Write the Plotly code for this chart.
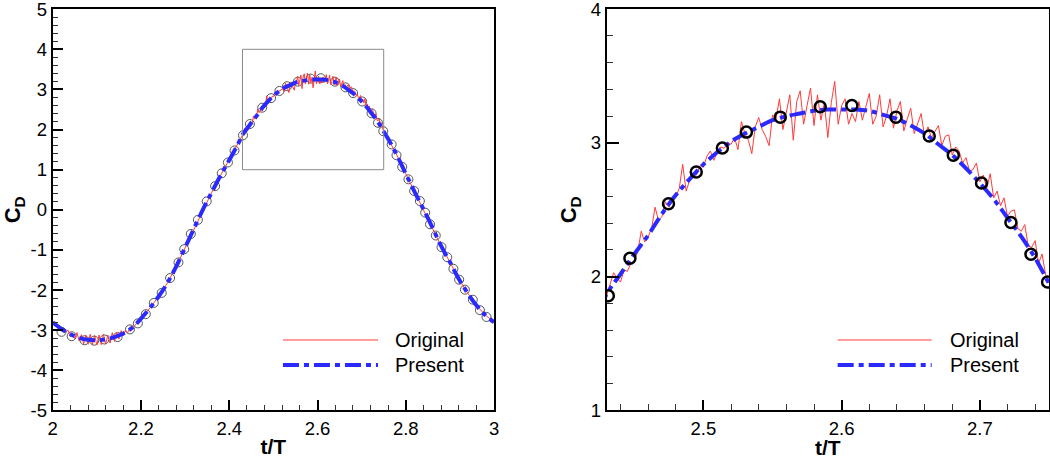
import plotly.graph_objects as go

# ---------------- data ----------------
# "Present" (smooth, blue dash-dot)
t_present = [2.00, 2.02, 2.04, 2.06, 2.08, 2.10, 2.12, 2.14, 2.16, 2.18,
             2.20, 2.22, 2.24, 2.26, 2.28, 2.30, 2.32, 2.34, 2.36, 2.38,
             2.40, 2.42, 2.43, 2.44, 2.45, 2.46, 2.47, 2.48, 2.49, 2.50,
             2.51, 2.52, 2.53, 2.54, 2.55, 2.56, 2.57, 2.58, 2.59, 2.60,
             2.61, 2.62, 2.63, 2.64, 2.65, 2.66, 2.67, 2.68, 2.69, 2.70,
             2.71, 2.72, 2.73, 2.74, 2.75, 2.76, 2.78, 2.80, 2.82, 2.84,
             2.86, 2.88, 2.90, 2.92, 2.94, 2.96, 2.98, 3.00]
cd_present = [-2.80, -2.97, -3.10, -3.19, -3.24, -3.25, -3.23, -3.17, -3.08, -2.94,
              -2.71, -2.45, -2.16, -1.82, -1.41, -0.94, -0.47, 0.00, 0.43, 0.85,
              1.24, 1.64, 1.87, 2.02, 2.17, 2.31, 2.47, 2.61, 2.73, 2.84,
              2.93, 3.01, 3.07, 3.12, 3.17, 3.20, 3.22, 3.24, 3.25, 3.25,
              3.25, 3.24, 3.21, 3.18, 3.13, 3.07, 2.99, 2.91, 2.81, 2.70,
              2.58, 2.44, 2.30, 2.14, 1.95, 1.77, 1.36, 0.90, 0.45, 0.02,
              -0.43, -0.90, -1.30, -1.72, -2.07, -2.38, -2.62, -2.80]

# "Original" (noisy, thin red)
t_original = [2.000, 2.010, 2.020, 2.025,
              2.030, 2.035, 2.040, 2.045, 2.050, 2.055, 2.060, 2.065, 2.070, 2.075,
              2.080, 2.085, 2.090, 2.095, 2.100, 2.105, 2.110, 2.115, 2.120, 2.125,
              2.130, 2.135, 2.140, 2.145, 2.150, 2.155, 2.160, 2.165, 2.170, 2.175, 2.180,
              2.20, 2.22, 2.24, 2.26, 2.28, 2.30, 2.32, 2.34, 2.36, 2.38, 2.40, 2.42,
              2.4300, 2.4325, 2.4350, 2.4375, 2.4400, 2.4425, 2.4450, 2.4475, 2.4500, 2.4525,
              2.4550, 2.4575, 2.4600, 2.4625, 2.4650, 2.4675, 2.4700, 2.4725, 2.4750, 2.4775,
              2.4800, 2.4825, 2.4850, 2.4875, 2.4900, 2.4925, 2.4950, 2.4975, 2.5000,
              2.5025, 2.5050, 2.5075, 2.5100, 2.5125, 2.5150, 2.5175, 2.5200, 2.5225, 2.5250,
              2.5275, 2.5300, 2.5325, 2.5350, 2.5375, 2.5400, 2.5425, 2.5450, 2.5475, 2.5500,
              2.5525, 2.5550, 2.5575, 2.5600, 2.5625, 2.5650, 2.5675, 2.5700, 2.5725, 2.5750,
              2.5775, 2.5800, 2.5825, 2.5850, 2.5875, 2.5900, 2.5925, 2.5950, 2.5975, 2.6000,
              2.6025, 2.6050, 2.6075, 2.6100, 2.6125, 2.6150, 2.6175, 2.6200, 2.6225, 2.6250,
              2.6275, 2.6300, 2.6325, 2.6350, 2.6375, 2.6400, 2.6425, 2.6450, 2.6475, 2.6500,
              2.6525, 2.6550, 2.6575, 2.6600, 2.6625, 2.6650, 2.6675, 2.6700, 2.6725, 2.6750,
              2.6775, 2.6800, 2.6825, 2.6850, 2.6875, 2.6900, 2.6925, 2.6950, 2.6975, 2.7000,
              2.7025, 2.7050, 2.7075, 2.7100, 2.7125, 2.7150, 2.7175, 2.7200, 2.7225, 2.7250,
              2.7275, 2.7300, 2.7325, 2.7350, 2.7375, 2.7400, 2.7425, 2.7450, 2.7475, 2.7500,
              2.76, 2.78, 2.80, 2.82, 2.84, 2.86, 2.88, 2.90, 2.92, 2.94, 2.96, 2.98, 3.00]
cd_original = [-2.80, -2.89, -2.96, -3.00,
               -3.04, -3.00, -3.16, -3.08, -3.21, -3.06, -3.27, -3.11, -3.34, -3.12,
               -3.35, -3.10, -3.36, -3.13, -3.37, -3.12, -3.36, -3.10, -3.35, -3.12,
               -3.32, -3.06, -3.28, -3.05, -3.22, -3.01, -3.14, -3.00, -3.06, -2.94, -2.96,
               -2.71, -2.45, -2.16, -1.82, -1.41, -0.94, -0.47, 0.00, 0.43, 0.85, 1.24, 1.64,
               1.86, 1.95, 2.03, 1.99, 1.96, 2.05, 2.04, 2.10, 2.12, 2.19,
               2.34, 2.26, 2.30, 2.36, 2.52, 2.42, 2.45, 2.56, 2.52, 2.58,
               2.60, 2.66, 2.84, 2.64, 2.72, 2.78, 2.76, 2.83, 2.82,
               2.90, 2.94, 2.87, 2.93, 2.97, 2.96, 3.00, 2.99, 3.04, 2.95,
               3.16, 3.07, 3.02, 2.92, 3.12, 3.19, 3.10, 3.05, 2.98, 3.21,
               3.18, 3.33, 3.10, 3.24, 3.36, 3.02, 3.31, 3.39, 3.14, 3.28,
               3.41, 3.13, 3.36, 3.17, 3.30, 3.04, 3.30, 3.46, 3.14, 3.28,
               3.33, 3.14, 3.22, 3.16, 3.31, 3.17, 3.26, 3.37, 3.14, 3.20,
               3.36, 3.12, 3.20, 3.33, 3.11, 3.24, 3.31, 3.09, 3.18, 3.26,
               3.07, 3.15, 3.22, 3.05, 3.12, 3.04, 3.09, 3.13, 2.98, 3.05,
               3.06, 2.91, 2.97, 2.94, 2.85, 2.89, 2.79, 2.80, 2.85, 2.71,
               2.76, 2.66, 2.77, 2.59, 2.64, 2.53, 2.59, 2.45, 2.49, 2.50,
               2.36, 2.34, 2.39, 2.23, 2.22, 2.27, 2.10, 2.17, 2.02, 1.96,
               1.77, 1.36, 0.90, 0.45, 0.02, -0.43, -0.90, -1.30, -1.72, -2.07, -2.38, -2.62, -2.80]

# open circle symbols
t_circles = [2.020, 2.043, 2.072, 2.094, 2.117, 2.147, 2.175, 2.193, 2.211, 2.229,
             2.247, 2.266, 2.285, 2.298, 2.313, 2.329, 2.349, 2.368, 2.383, 2.397,
             2.412, 2.4312, 2.4468, 2.4747, 2.4948, 2.5137, 2.5311, 2.5556, 2.5845, 2.6074,
             2.6393, 2.6634, 2.6808, 2.7012, 2.7225, 2.7370, 2.749, 2.768, 2.779, 2.792,
             2.806, 2.819, 2.832, 2.844, 2.855, 2.868, 2.881, 2.894, 2.908, 2.921,
             2.934, 2.952, 2.968, 2.983]
cd_circles = [-3.04, -3.15, -3.25, -3.26, -3.23, -3.17, -2.98, -2.83, -2.60, -2.32,
              -2.07, -1.70, -1.31, -0.98, -0.60, -0.25, 0.21, 0.59, 0.91, 1.18,
              1.48, 1.857, 2.138, 2.545, 2.783, 2.962, 3.081, 3.193, 3.270, 3.280,
              3.193, 3.052, 2.908, 2.701, 2.406, 2.168, 1.96, 1.63, 1.36, 1.07,
              0.76, 0.47, 0.22, -0.07, -0.36, -0.64, -0.93, -1.18, -1.47, -1.74,
              -1.99, -2.24, -2.50, -2.67]

# tick labels
left_y_vals = [-5, -4, -3, -2, -1, 0, 1, 2, 3, 4, 5]
left_y_text = ["-5", "-4", "-3", "-2", "-1", "0", "1", "2", "3", "4", "5"]
left_x_vals = [2.0, 2.2, 2.4, 2.6, 2.8, 3.0]
left_x_text = ["2", "2.2", "2.4", "2.6", "2.8", "3"]
right_y_vals = [1, 2, 3, 4]
right_y_text = ["1", "2", "3", "4"]
right_x_vals = [2.5, 2.6, 2.7]
right_x_text = ["2.5", "2.6", "2.7"]
legend_names = ["Original", "Present"]

# ---------------- styles ----------------
FONT = "Liberation Sans, Arial, Helvetica, sans-serif"
RED = "#ff3b3b"
BLUE = "#2a2aff"
DASH = "16px,5px,5px,5px"
Y_DOMAIN = [0.1057, 0.980]

fig = go.Figure()

# left panel
fig.add_trace(go.Scatter(x=t_circles, y=cd_circles, mode="markers", xaxis="x", yaxis="y",
                         marker=dict(symbol="circle-open", size=9, color="#555555",
                                     line=dict(width=1)), showlegend=False))
fig.add_trace(go.Scatter(x=t_original, y=cd_original, mode="lines", xaxis="x", yaxis="y",
                         line=dict(color=RED, width=1), showlegend=False))
fig.add_trace(go.Scatter(x=t_present, y=cd_present, mode="lines", xaxis="x", yaxis="y",
                         line=dict(color=BLUE, width=4, dash=DASH, shape="spline"),
                         showlegend=False))
# right panel
fig.add_trace(go.Scatter(x=t_original, y=cd_original, mode="lines", xaxis="x2", yaxis="y2",
                         line=dict(color=RED, width=1), showlegend=False))
fig.add_trace(go.Scatter(x=t_present, y=cd_present, mode="lines", xaxis="x2", yaxis="y2",
                         line=dict(color=BLUE, width=4, dash=DASH, shape="spline"),
                         showlegend=False))
fig.add_trace(go.Scatter(x=t_circles, y=cd_circles, mode="markers", xaxis="x2", yaxis="y2",
                         marker=dict(symbol="circle-open", size=11, color="black",
                                     line=dict(width=2.5)), showlegend=False))


def axis_common(**kw):
    d = dict(showgrid=False, zeroline=False, showline=True, linewidth=2, linecolor="black",
             mirror=True, ticks="inside", ticklen=10, tickwidth=2, tickcolor="black",
             tickfont=dict(family=FONT, size=18.5, color="black"), tickmode="array",
             automargin=False, ticklabeloverflow="allow")
    d.update(kw)
    return d


fig.update_layout(
    width=1050, height=459,
    margin=dict(l=0, r=0, t=0, b=0),
    paper_bgcolor="white", plot_bgcolor="white",
    font=dict(family=FONT, color="black"),
    xaxis=axis_common(domain=[0.0502, 0.4705], range=[2, 3], anchor="y",
                      tickvals=left_x_vals, ticktext=left_x_text,
                      minor=dict(tickmode="linear", tick0=2, dtick=0.04, ticks="inside",
                                 ticklen=5, tickwidth=1, tickcolor="#333333"),
                      title=dict(text="<b>t/T</b>", font=dict(family=FONT, size=21),
                                 standoff=2)),
    yaxis=axis_common(domain=Y_DOMAIN, range=[-5, 5], anchor="x",
                      tickvals=left_y_vals, ticktext=left_y_text,
                      minor=dict(tickmode="linear", tick0=0, dtick=0.2, ticks="inside",
                                 ticklen=5, tickwidth=1, tickcolor="#333333"),
                      title=dict(text="<b>C<sub>D</sub></b>", font=dict(family=FONT, size=22),
                                 standoff=4)),
    xaxis2=axis_common(domain=[0.5778, 0.999], range=[2.43, 2.75], anchor="y2",
                       tickvals=right_x_vals, ticktext=right_x_text,
                       minor=dict(tickmode="linear", tick0=2.0, dtick=0.02, ticks="inside",
                                  ticklen=6, tickwidth=1, tickcolor="#333333"),
                       title=dict(text="<b>t/T</b>", font=dict(family=FONT, size=21),
                                  standoff=2)),
    yaxis2=axis_common(domain=Y_DOMAIN, range=[1, 4], anchor="x2",
                       tickvals=right_y_vals, ticktext=right_y_text, ticklen=12,
                       minor=dict(tickmode="linear", tick0=0, dtick=0.2, ticks="inside",
                                  ticklen=6, tickwidth=1, tickcolor="#333333"),
                       title=dict(text="<b>C<sub>D</sub></b>", font=dict(family=FONT, size=22),
                                  standoff=8)),
)

# zoom window on the left panel
fig.add_shape(type="rect", xref="x", yref="y", x0=2.43, x1=2.75, y0=1, y1=4,
              line=dict(color="#8a8a8a", width=1))

# legends (drawn by hand so the line samples are long like the original)
legend_pos = [  # (x_line0, x_line1, x_text) in paper coordinates
    (0.2695, 0.3600, 0.3743),
    (0.7978, 0.8873, 0.9029),
]
legend_rows_y = [0.2593, 0.2048]
for (xl0, xl1, xt) in legend_pos:
    fig.add_shape(type="line", xref="paper", yref="paper", x0=xl0, x1=xl1,
                  y0=legend_rows_y[0], y1=legend_rows_y[0], line=dict(color=RED, width=1))
    fig.add_shape(type="line", xref="paper", yref="paper", x0=xl0, x1=xl1,
                  y0=legend_rows_y[1], y1=legend_rows_y[1],
                  line=dict(color=BLUE, width=4, dash=DASH))
    for name, yy in zip(legend_names, legend_rows_y):
        fig.add_annotation(x=xt, y=yy, xref="paper", yref="paper", text=name,
                           showarrow=False, xanchor="left", yanchor="middle",
                           font=dict(family=FONT, size=20, color="black"))

fig.write_html("out.html",
               config={"displayModeBar": False},
               post_script="document.body.style.margin='0px';"
                           "document.body.style.overflow='hidden';")
